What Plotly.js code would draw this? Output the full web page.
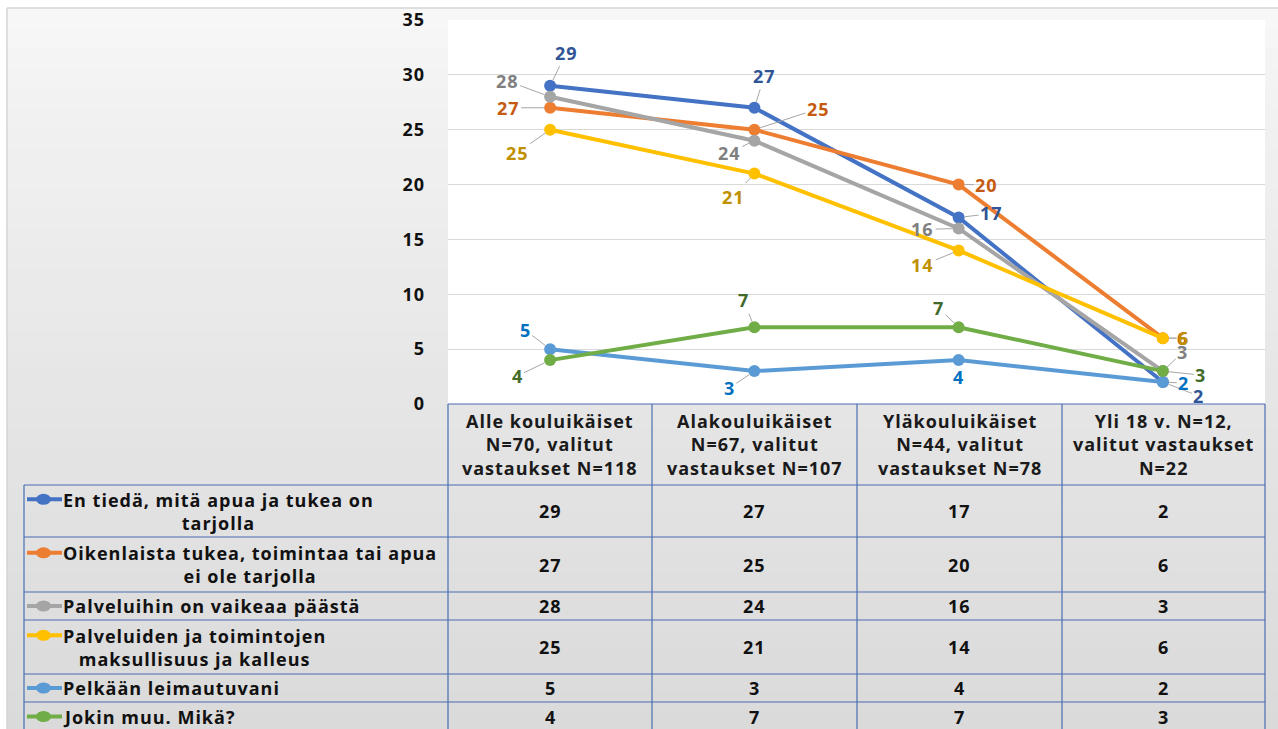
<!DOCTYPE html>
<html><head><meta charset="utf-8">
<script src="https://cdn.plot.ly/plotly-3.0.1.min.js"></script>
<style>html,body{margin:0;padding:0;background:#fff;}#chart{width:1278px;height:729px;}text{letter-spacing:1px;}</style>
</head><body><div id="chart"></div>
<script>
// ---- data ----
const categories = [
  "Alle kouluikäiset\nN=70, valitut\nvastaukset N=118",
  "Alakouluikäiset\nN=67, valitut\nvastaukset N=107",
  "Yläkouluikäiset\nN=44, valitut\nvastaukset N=78",
  "Yli 18 v. N=12,\nvalitut vastaukset\nN=22"
];
const seriesNames = [
  "En tiedä, mitä apua ja tukea on\ntarjolla",
  "Oikenlaista tukea, toimintaa tai apua\nei ole tarjolla",
  "Palveluihin on vaikeaa päästä",
  "Palveluiden ja toimintojen\nmaksullisuus ja kalleus",
  "Pelkään leimautuvani",
  "Jokin muu. Mikä?"
];
const enTieda      = [29, 27, 17, 2];
const oikenlaista  = [27, 25, 20, 6];
const vaikeaa      = [28, 24, 16, 3];
const maksullisuus = [25, 21, 14, 6];
const leimautuvani = [5, 3, 4, 2];
const jokinMuu     = [4, 7, 7, 3];
const seriesValues = [enTieda, oikenlaista, vaikeaa, maksullisuus, leimautuvani, jokinMuu];
const yTickValues = [0, 5, 10, 15, 20, 25, 30, 35];

// ---- styles ----
const lineColors  = ['#4472C4', '#ED7D31', '#A5A5A5', '#FFC000', '#5B9BD5', '#70AD47'];
const labelColors = ['#2F5597', '#C55A11', '#7F7F7F', '#BF9000', '#0070C0', '#426B2A'];
const labelOffsets = [
  [[16,-33],[10,-32],[33,-4],[36,14]],
  [[-42,0],[64,-21],[28,0],[20,0]],
  [[-43,-16],[-25,12],[-36,1],[20,-19]],
  [[-33,23],[-21,23],[-36,15],[21,0]],
  [[-25,-19],[-25,17],[0,17],[21,1]],
  [[-33,16],[-11,-27],[-20,-19],[38,4]]
];
const FONT = 'Open Sans, Liberation Sans, sans-serif';
const FS = 18;

// ---- geometry (pixels) ----
const W = 1278, H = 729, PL = 448, PR = 1265, PT = 20, PB = 404;
const pw = PR - PL, ph = PB - PT;
const rowEdges = [485, 537, 592, 620, 674, 702, 731];
const colEdges = [448, 652, 857, 1062, 1265];
const tableLeft = 24;
const fx = x => (x - PL) / pw;
const fy = y => (PB - y) / ph;
const br = s => s.replace(/\n/g, '<br>');

const shapes = [];
// chart area gradient background
const gTop = 8, gBot = H + 2, steps = 36;
for (let i = 0; i < steps; i++) {
  const y0 = gTop + (gBot - gTop) * i / steps;
  const y1 = gTop + (gBot - gTop) * (i + 1) / steps;
  const t = (i + 0.5) / steps;
  const c = Math.round(248 - 30 * Math.pow(t, 0.8));
  shapes.push({type:'rect', xref:'paper', yref:'paper', layer:'below',
    x0: fx(7), x1: fx(W + 2), y0: fy(y0), y1: fy(y1 + 0.5),
    fillcolor: `rgb(${c},${c},${c})`, line:{width:0}});
}
// chart area border
shapes.push({type:'line', xref:'paper', yref:'paper', layer:'below', x0:fx(7), x1:fx(W+2), y0:fy(8), y1:fy(8), line:{color:'#d4d4d4', width:1.5}});
shapes.push({type:'line', xref:'paper', yref:'paper', layer:'below', x0:fx(7), x1:fx(7), y0:fy(8), y1:fy(H+2), line:{color:'#d4d4d4', width:1.5}});
// white plot area
shapes.push({type:'rect', xref:'paper', yref:'paper', layer:'below', x0:0, x1:1, y0:0, y1:1, fillcolor:'#ffffff', line:{width:0}});

// table borders
const bc = '#4A6DB3';
shapes.push({type:'line', xref:'paper', yref:'paper', x0:fx(colEdges[0]), x1:fx(colEdges[4]), y0:fy(PB), y1:fy(PB), line:{color:bc, width:1.2}});
rowEdges.slice(0, -1).forEach(y => {
  shapes.push({type:'line', xref:'paper', yref:'paper', x0:fx(tableLeft), x1:fx(colEdges[4]), y0:fy(y), y1:fy(y), line:{color:bc, width:1.2}});
});
shapes.push({type:'line', xref:'paper', yref:'paper', x0:fx(tableLeft), x1:fx(tableLeft), y0:fy(rowEdges[0]), y1:fy(H+2), line:{color:bc, width:1.2}});
colEdges.forEach(x => {
  shapes.push({type:'line', xref:'paper', yref:'paper', x0:fx(x), x1:fx(x), y0:fy(PB), y1:fy(H+2), line:{color:bc, width:1.2}});
});

const annotations = [];
// header
categories.forEach((c, j) => {
  annotations.push({xref:'paper', yref:'paper', x: fx((colEdges[j] + colEdges[j+1]) / 2), y: fy((PB + rowEdges[0]) / 2),
    text: br(c), showarrow:false, xanchor:'center', yanchor:'middle', align:'center',
    font:{family:FONT, size:FS, color:'#1a1a1a', weight:'bold'}});
});
// rows
const lineH = FS * 1.3;
seriesNames.forEach((name, i) => {
  const yc = (rowEdges[i] + rowEdges[i+1]) / 2;
  const nLines = name.split('\n').length;
  const keyY = yc - (nLines - 1) * lineH / 2;
  annotations.push({xref:'paper', yref:'paper', x: fx(61), y: fy(yc), text: br(name), showarrow:false,
    xanchor:'left', yanchor:'middle', align:'center', font:{family:FONT, size:FS, color:'#111', weight:'bold'}});
  shapes.push({type:'line', xref:'paper', yref:'paper', x0:fx(27), x1:fx(62), y0:fy(keyY), y1:fy(keyY), line:{color:lineColors[i], width:4}});
  shapes.push({type:'circle', xref:'paper', yref:'paper', x0:fx(36), x1:fx(51), y0:fy(keyY - 5.5), y1:fy(keyY + 5.5), fillcolor:lineColors[i], line:{width:0}});
  seriesValues[i].forEach((v, j) => {
    annotations.push({xref:'paper', yref:'paper', x: fx((colEdges[j] + colEdges[j+1]) / 2), y: fy(yc),
      text: String(v), showarrow:false, xanchor:'center', yanchor:'middle',
      font:{family:FONT, size:FS, color:'#111', weight:'bold'}});
  });
});
// data labels
seriesValues.forEach((vals, i) => {
  vals.forEach((v, j) => {
    const [dx, dy] = labelOffsets[i][j];
    annotations.push({x: categories[j], y: v, xref:'x', yref:'y', text: String(v),
      showarrow:true, arrowhead:0, arrowwidth:1, arrowcolor:'#a6a6a6', ax:dx, ay:dy, standoff:6,
      font:{family:FONT, size:FS, color:labelColors[i], weight:'bold'}});
  });
});

const traces = seriesValues.map((vals, i) => ({
  type:'scatter', mode:'lines+markers', name: seriesNames[i].replace('\n', ' '),
  x: categories, y: vals,
  line:{color:lineColors[i], width:4},
  marker:{color:lineColors[i], size:12},
  hoverinfo:'skip'
}));

const layout = {
  width:W, height:H,
  margin:{l:PL, r:W-PR, t:PT, b:H-PB, pad:0},
  paper_bgcolor:'#ffffff', plot_bgcolor:'rgba(0,0,0,0)',
  showlegend:false,
  xaxis:{type:'category', range:[-0.5, 3.5], showgrid:false, zeroline:false, showline:false, showticklabels:false, ticks:'', fixedrange:true},
  yaxis:{range:[0, 35], tickvals:yTickValues, ticktext:yTickValues.map(String), showgrid:true, gridcolor:'#d9d9d9', gridwidth:1,
    zeroline:false, showline:false, ticks:'', ticklabelstandoff:22,
    tickfont:{family:FONT, size:FS, color:'#111', weight:'bold'}, fixedrange:true},
  shapes, annotations
};
Plotly.newPlot('chart', traces, layout, {staticPlot:true, displayModeBar:false});
</script></body></html>
